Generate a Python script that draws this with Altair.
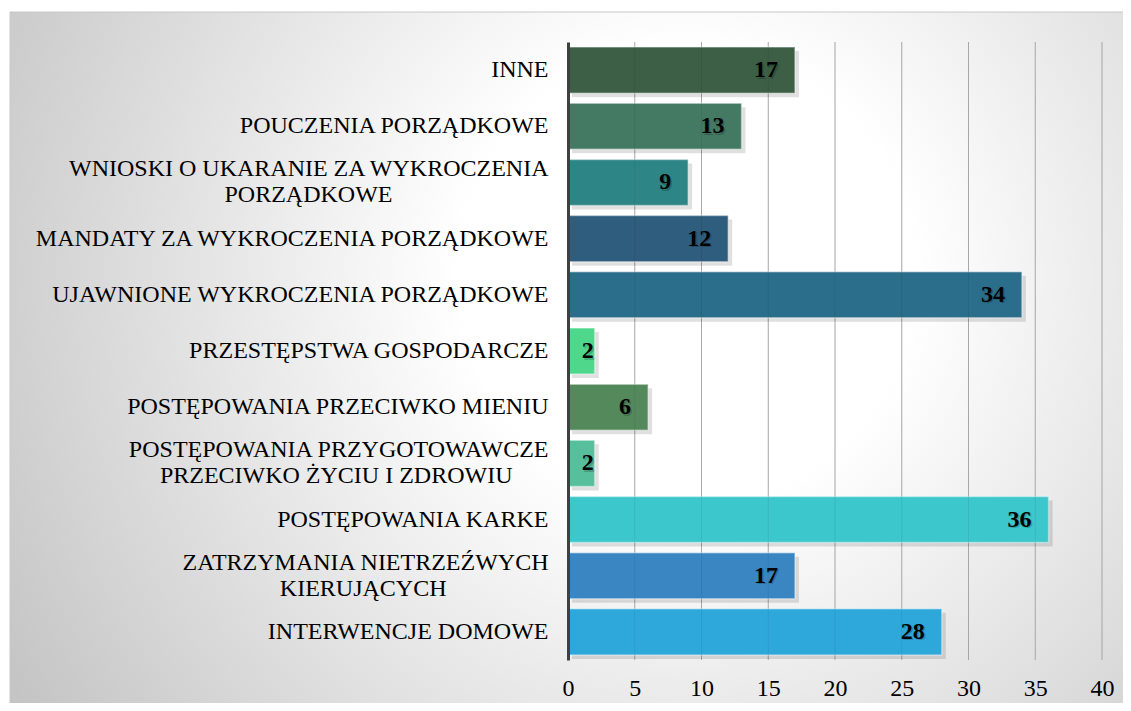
import altair as alt
import pandas as pd

NB = "\u00a0"
ZW = "\u200b"

categories = [
    "INNE",
    "POUCZENIA PORZĄDKOWE",
    "WNIOSKI O UKARANIE ZA WYKROCZENIA\nPORZĄDKOWE" + NB * 26 + ZW,
    "MANDATY ZA WYKROCZENIA PORZĄDKOWE",
    "UJAWNIONE WYKROCZENIA PORZĄDKOWE",
    "PRZESTĘPSTWA GOSPODARCZE",
    "POSTĘPOWANIA PRZECIWKO MIENIU",
    "POSTĘPOWANIA PRZYGOTOWAWCZE\nPRZECIWKO ŻYCIU I ZDROWIU" + NB * 6 + ZW,
    "POSTĘPOWANIA KARKE",
    "ZATRZYMANIA NIETRZEŹWYCH\nKIERUJĄCYCH" + NB * 17 + ZW,
    "INTERWENCJE DOMOWE",
]
values = [17, 13, 9, 12, 34, 2, 6, 2, 36, 17, 28]
colors = [
    "#3c5f45", "#447a64", "#2d8585", "#2f5d7e", "#2b6e8b", "#4fd88c",
    "#54895c", "#58bf9c", "#3cc7cd", "#3a86c2", "#2ea8db",
]
x_ticks = [0, 5, 10, 15, 20, 25, 30, 35, 40]
grid_ticks = [5, 10, 15, 20, 25, 30, 35, 40]

df = pd.DataFrame({"cat": categories, "val": values})
grid_df = pd.DataFrame({"t": grid_ticks})

FONT = "Liberation Serif"

bg = alt.Chart(pd.DataFrame({"a": [0]})).mark_rect(
    fill={
        "gradient": "radial",
        "x1": 0.6, "y1": 0.42, "r1": 0.0,
        "x2": 0.6, "y2": 0.42, "r2": 0.72,
        "stops": [
            {"offset": 0.0, "color": "#ffffff"},
            {"offset": 0.28, "color": "#ffffff"},
            {"offset": 1.0, "color": "#c2c2c2"},
        ],
    },
    stroke="#c8c8c8",
    strokeWidth=1,
).encode(
    x=alt.value(-558), x2=alt.value(570),
    y=alt.value(-30), y2=alt.value(680),
)

yenc = alt.Y(
    "cat:N",
    sort=categories,
    scale=alt.Scale(paddingInner=0.18, paddingOuter=0.09),
    axis=alt.Axis(
        title=None,
        labelExpr="split(datum.label, '\\n')",
        labelFont=FONT,
        labelFontSize=24,
        labelColor="#000000",
        labelLineHeight=26,
        labelPadding=20,
        labelLimit=0,
        labelOffset={"condition": {"test": "indexof(datum.label, '\\n') >= 0", "value": -13}, "value": 0},
        ticks=False,
        tickSize=0,
        grid=False,
        domain=True,
        domainColor="#404040",
        domainWidth=3,
        zindex=2,
    ),
)
xscale = alt.Scale(domain=[0, 40], nice=False)
xenc = alt.X(
    "val:Q",
    scale=xscale,
    axis=alt.Axis(
        title=None,
        values=x_ticks,
        grid=False,
        domain=False,
        ticks=False,
        tickSize=0,
        labelFlush=False,
        labelFont=FONT,
        labelFontSize=24,
        labelColor="#000000",
        labelPadding=16,
        zindex=2,
    ),
)

grid_under = alt.Chart(grid_df).mark_rule(color="#b4b4b4", strokeWidth=1).encode(
    x=alt.X("t:Q", scale=xscale)
)
grid_over = alt.Chart(grid_df).mark_rule(color="#000000", strokeWidth=1, opacity=0.07).encode(
    x=alt.X("t:Q", scale=xscale)
)

shadow = alt.Chart(df).mark_bar(
    color="#000000", opacity=0.12, xOffset=4, yOffset=4
).encode(x=xenc, y=yenc)

bars = alt.Chart(df).mark_bar(
    opacity=1, stroke="#ffffff", strokeOpacity=0.4, strokeWidth=1.5
).encode(
    x=xenc,
    y=yenc,
    color=alt.Color("cat:N", scale=alt.Scale(domain=categories, range=colors), legend=None),
)

big = alt.datum.val >= 4
small = alt.datum.val < 4

text_style = dict(font=FONT, fontSize=24, fontWeight="bold", align="right", baseline="middle")

text_shadow_big = alt.Chart(df).transform_filter(big).mark_text(
    dx=-15.5, dy=1.5, color="#000000", opacity=0.18, **text_style
).encode(x=xenc, y=yenc, text="val:Q")
text_big = alt.Chart(df).transform_filter(big).mark_text(
    dx=-17, color="#000000", **text_style
).encode(x=xenc, y=yenc, text="val:Q")

text_shadow_small = alt.Chart(df).transform_filter(small).mark_text(
    dx=0.5, dy=1.5, color="#000000", opacity=0.18, **text_style
).encode(x=xenc, y=yenc, text="val:Q")
text_small = alt.Chart(df).transform_filter(small).mark_text(
    dx=-1, color="#000000", **text_style
).encode(x=xenc, y=yenc, text="val:Q")

chart = alt.layer(
    bg, grid_under, shadow, bars, grid_over,
    text_shadow_big, text_big, text_shadow_small, text_small,
).properties(
    width=534,
    height=618,
    padding={"left": 560, "top": 34, "right": 21, "bottom": 43},
    autosize=alt.AutoSizeParams(type="none"),
).configure_view(stroke=None)

chart.save("out.html", embed_options={"renderer": "svg", "actions": False})
